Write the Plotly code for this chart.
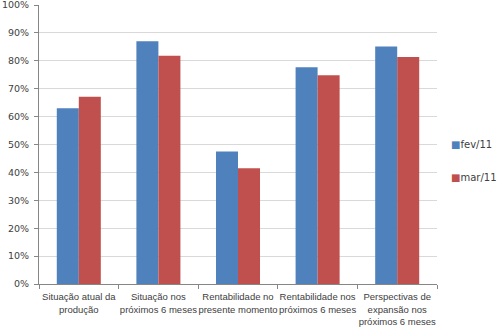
import plotly.graph_objects as go

categories = [
    "Situação atual da<br>produção",
    "Situação nos<br>próximos 6 meses",
    "Rentabilidade no<br>presente momento",
    "Rentabilidade nos<br>próximos 6 meses",
    "Perspectivas de<br>expansão nos<br>próximos 6 meses",
]
fev_11 = [0.63, 0.87, 0.475, 0.777, 0.851]
mar_11 = [0.671, 0.818, 0.415, 0.748, 0.814]
y_ticks = [0, 0.1, 0.2, 0.3, 0.4, 0.5, 0.6, 0.7, 0.8, 0.9, 1.0]
series_names = ["fev/11", "mar/11"]
series_colors = ["#4F81BD", "#C0504D"]

fig = go.Figure()
for name, vals, col in zip(series_names, [fev_11, mar_11], series_colors):
    fig.add_trace(go.Bar(name=name, x=categories, y=vals, marker_color=col,
                         marker_line_width=0, showlegend=False))

legend_y = [0.5, 0.382]
annotations = []
for name, col, yy in zip(series_names, series_colors, legend_y):
    annotations.append(dict(
        xref="paper", yref="paper", x=1.032, y=yy, xanchor="left", yanchor="middle",
        text=f"<span style='color:{col}'>■</span>{name}", showarrow=False,
        borderpad=0,
        font=dict(family="DejaVu Sans", size=10, color="#404040"),
    ))

fig.update_layout(
    width=499, height=330,
    margin=dict(l=39, r=62, t=5, b=46, autoexpand=False),
    paper_bgcolor="white", plot_bgcolor="white",
    barmode="group", bargap=0.447, bargroupgap=0,
    font=dict(family="DejaVu Sans", size=9.5, color="#404040"),
    annotations=annotations,
    xaxis=dict(
        showline=True, linecolor="#868686", linewidth=1,
        ticks="outside", tickson="boundaries", ticklen=4, tickcolor="#868686",
        tickangle=0, ticklabelstandoff=4,
        tickfont=dict(family="Liberation Sans", size=9.5, color="#404040"),
        showgrid=False,
    ),
    yaxis=dict(
        range=[0, 1.0001], tickvals=y_ticks, tickformat=".0%",
        showline=True, linecolor="#868686", linewidth=1,
        ticks="outside", ticklen=4, tickcolor="#868686",
        showgrid=True, gridcolor="#D9D9D9", gridwidth=1,
        zeroline=False, ticklabeloverflow="allow", ticklabelstandoff=3,
        tickfont=dict(family="DejaVu Sans", size=9.5, color="#404040"),
    ),
)
fig.write_html("out.html")
